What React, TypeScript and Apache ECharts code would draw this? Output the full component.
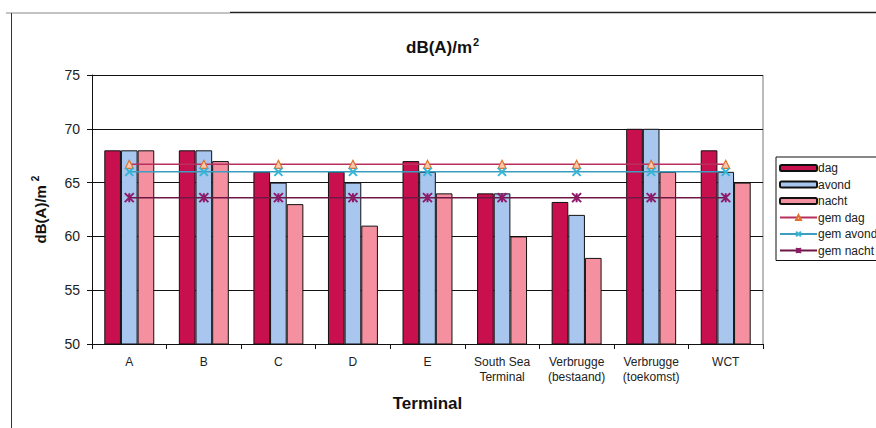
import React, { useEffect, useRef } from "react";
import * as echarts from "echarts";

const categories = [
  "A",
  "B",
  "C",
  "D",
  "E",
  "South Sea\nTerminal",
  "Verbrugge\n(bestaand)",
  "Verbrugge\n(toekomst)",
  "WCT",
];

const dag = [68, 68, 66, 66, 67, 64, 63.2, 70, 68];
const avond = [68, 68, 65, 65, 66, 64, 62, 70, 66];
const nacht = [68, 67, 63, 61, 64, 60, 58, 66, 65];

const gemDag = [66.7, 66.7, 66.7, 66.7, 66.7, 66.7, 66.7, 66.7, 66.7];
const gemAvond = [66.0, 66.0, 66.0, 66.0, 66.0, 66.0, 66.0, 66.0, 66.0];
const gemNacht = [63.6, 63.6, 63.6, 63.6, 63.6, 63.6, 63.6, 63.6, 63.6];

const yTicks = { min: 50, max: 75, interval: 5 };

const FONT = "Liberation Sans, Arial, sans-serif";

export default function App() {
  const ref = useRef<HTMLDivElement>(null);

  useEffect(() => {
    if (!ref.current) return;
    const chart = echarts.init(ref.current, undefined, { renderer: "svg" });

    const barBase = {
      type: "bar" as const,
      barGap: "0%",
      barCategoryGap: "33%",
    };

    chart.setOption({
      animation: false,
      backgroundColor: "#ffffff",
      textStyle: { fontFamily: FONT },
      title: {
        text: "dB(A)/m{sup|2}",
        left: 406,
        top: 36,
        padding: 0,
        textStyle: {
          fontFamily: FONT,
          fontSize: 17,
          fontWeight: "bold",
          color: "#111",
          rich: {
            sup: {
              fontFamily: FONT,
              fontSize: 11,
              fontWeight: "bold",
              color: "#111",
              padding: [0, 0, 11, 1],
            },
          },
        },
      },
      legend: {
        orient: "vertical",
        left: 776,
        top: 157,
        padding: [5, 8, 4, 3],
        itemGap: 4.5,
        itemWidth: 37,
        itemHeight: 6,
        backgroundColor: "#ffffff",
        borderColor: "#111",
        borderWidth: 1,
        borderRadius: 0,
        textStyle: {
          fontFamily: FONT,
          fontSize: 12,
          lineHeight: 12,
          color: "#222",
          padding: [0, 0, 0, -4],
        },
        data: ["dag", "avond", "nacht", "gem dag", "gem avond", "gem nacht"],
      },
      grid: { left: 92, right: 113, top: 75, bottom: 84 },
      xAxis: {
        type: "category",
        data: categories,
        name: "Terminal",
        nameLocation: "middle",
        nameGap: 51,
        nameTextStyle: { fontFamily: FONT, fontSize: 17, fontWeight: "bold", color: "#111" },
        axisLine: { lineStyle: { color: "#111", width: 1 } },
        axisTick: { show: true, length: 5, lineStyle: { color: "#111" } },
        axisLabel: {
          interval: 0,
          fontFamily: FONT,
          fontSize: 12,
          lineHeight: 15,
          color: "#222",
          margin: 10,
        },
      },
      yAxis: {
        type: "value",
        min: yTicks.min,
        max: yTicks.max,
        interval: yTicks.interval,
        name: "dB(A)/m{sup|2}",
        nameLocation: "middle",
        nameGap: 42,
        nameTextStyle: {
          fontFamily: FONT,
          fontSize: 15,
          fontWeight: "bold",
          color: "#111",
          rich: {
            sup: {
              fontFamily: FONT,
              fontSize: 10,
              fontWeight: "bold",
              color: "#111",
              padding: [0, 0, 10, 4],
            },
          },
        },
        axisLine: { show: true, lineStyle: { color: "#111", width: 1 } },
        axisTick: { show: true, length: 5, lineStyle: { color: "#111" } },
        axisLabel: { fontFamily: FONT, fontSize: 14, color: "#222", margin: 12 },
        splitLine: { show: true, lineStyle: { color: "#111", width: 1 } },
      },
      series: [
        {
          ...barBase,
          name: "dag",
          data: dag,
          itemStyle: { color: "#C8104F", borderColor: "#111", borderWidth: 1 },
        },
        {
          ...barBase,
          name: "avond",
          data: avond,
          itemStyle: { color: "#A8C6EE", borderColor: "#111", borderWidth: 1 },
        },
        {
          ...barBase,
          name: "nacht",
          data: nacht,
          itemStyle: { color: "#F4909F", borderColor: "#111", borderWidth: 1 },
        },
        {
          type: "line",
          name: "gem dag",
          data: gemDag,
          z: 5,
          symbol: "triangle",
          symbolSize: 8,
          lineStyle: { color: "#B8305E", width: 1.5 },
          itemStyle: { color: "#FCC8B0", borderColor: "#E0702A", borderWidth: 1.2 },
        },
        {
          type: "line",
          name: "gem avond",
          data: gemAvond,
          z: 5,
          symbol: "path://M0,0L10,10M10,0L0,10",
          symbolSize: 8,
          lineStyle: { color: "#3A9EC0", width: 1.5 },
          itemStyle: { color: "#35B5D5", borderColor: "#35B5D5", borderWidth: 2 },
        },
        {
          type: "line",
          name: "gem nacht",
          data: gemNacht,
          z: 5,
          symbol: "path://M0,0L10,10M10,0L0,10M5,0L5,10",
          symbolSize: 9,
          lineStyle: { color: "#6E1645", width: 1.5 },
          itemStyle: { color: "#8E1A6A", borderColor: "#8E1A6A", borderWidth: 2 },
        },
      ],
      graphic: [
        {
          type: "line",
          shape: { x1: 6, y1: 13, x2: 230, y2: 13 },
          style: { stroke: "#888", lineWidth: 1 },
        },
        {
          type: "line",
          shape: { x1: 230, y1: 12.5, x2: 876, y2: 12.5 },
          style: { stroke: "#222", lineWidth: 1.5 },
        },
        {
          type: "line",
          shape: { x1: 11.5, y1: 13, x2: 11.5, y2: 428 },
          style: { stroke: "#333", lineWidth: 1 },
        },
        {
          type: "line",
          shape: { x1: 763, y1: 75, x2: 763, y2: 344 },
          style: { stroke: "#777", lineWidth: 1 },
        },
      ],
    });

    return () => chart.dispose();
  }, []);

  return <div ref={ref} style={{ width: 876, height: 428, position: "absolute", left: 0, top: 0 }} />;
}
